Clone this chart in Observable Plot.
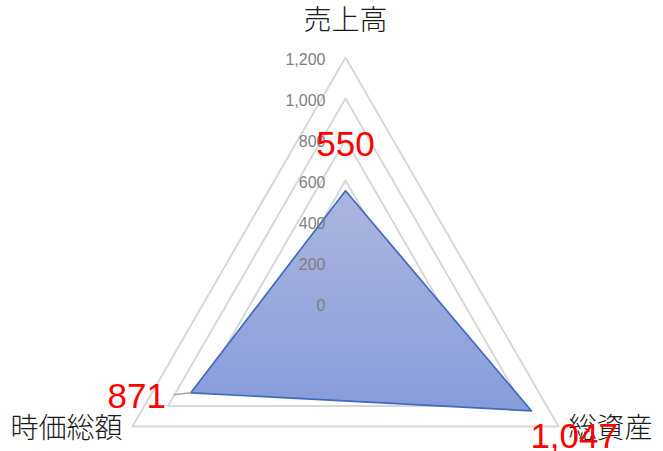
<!DOCTYPE html>
<html>
<head>
<meta charset="utf-8">
<script src="https://cdn.jsdelivr.net/npm/d3@7"></script>
<script src="https://cdn.jsdelivr.net/npm/@observablehq/plot@0.6"></script>
<style>
  html, body { margin: 0; padding: 0; background: #fff; }
  #chart svg { display: block; }
</style>
</head>
<body>
<div id="chart"></div>
<script>
// ---- data ----
const categories = ["売上高", "総資産", "時価総額"];
const values = [550, 1047, 871];
const valueLabels = ["550", "1,047", "871"];
const tickValues = [0, 200, 400, 600, 800, 1000, 1200];
const tickLabels = ["0", "200", "400", "600", "800", "1,000", "1,200"];
const maxValue = 1200;

// ---- geometry helpers (polar -> cartesian in data units) ----
const n = categories.length;
const ang = i => (i * 2 * Math.PI) / n;
const px = (i, v) => v * Math.sin(ang(i));
const py = (i, v) => v * Math.cos(ang(i));

const gridPts = tickValues.flatMap(t =>
  categories.map((c, i) => ({level: t, x: px(i, t), y: py(i, t)}))
);
const seriesPts = categories.map((c, i) => ({cat: c, v: values[i], label: valueLabels[i], x: px(i, values[i]), y: py(i, values[i])}));
const axisLabels = categories.map((c, i) => ({cat: c, i, x: px(i, maxValue), y: py(i, maxValue)}));
const tickPts = tickValues.map((t, k) => ({t, label: tickLabels[k]}));

const W = 663, H = 451;
const cx = 345, cy = 303, k = 246 / maxValue;

const cjk = "'Noto Sans CJK JP', 'Noto Sans', sans-serif";
const num = "'Liberation Sans', Arial, sans-serif";

const p871 = seriesPts[2];

const svg = Plot.plot({
  width: W,
  height: H,
  margin: 0,
  x: {domain: [-cx / k, (W - cx) / k], range: [0, W], axis: null},
  y: {domain: [(cy - H) / k, cy / k], range: [H, 0], axis: null},
  style: {background: "#fff"},
  marks: [
    Plot.line(gridPts, {x: "x", y: "y", z: "level", curve: "linear-closed", stroke: "#d6d6d6", strokeWidth: 1.9}),
    Plot.line(seriesPts, {x: "x", y: "y", curve: "linear-closed", fill: "url(#radarFill)", stroke: "#4169bd", strokeWidth: 1.7}),
    Plot.text(tickPts, {x: 0, y: "t", text: "label", textAnchor: "end", dx: -20, dy: 2, fill: "#808080", fontSize: 16, fontFamily: num}),
    // category labels
    Plot.text(axisLabels.filter(d => d.i === 0), {x: "x", y: "y", text: "cat", dy: -36, fontSize: 28, fontFamily: cjk, fontWeight: 300, fill: "#1a1a1a"}),
    Plot.text(axisLabels.filter(d => d.i === 1), {x: "x", y: "y", text: "cat", textAnchor: "start", dx: 10, dy: 3, fontSize: 28, fontFamily: cjk, fontWeight: 300, fill: "#1a1a1a"}),
    Plot.text(axisLabels.filter(d => d.i === 2), {x: "x", y: "y", text: "cat", textAnchor: "end", dx: -10, dy: 3, fontSize: 28, fontFamily: cjk, fontWeight: 300, fill: "#1a1a1a"}),
    // leader line for 871
    Plot.link([p871], {x1: d => d.x - 17 / k, y1: d => d.y - 2 / k, x2: "x", y2: "y", stroke: "#a6a6a6", strokeWidth: 1.5}),
    // value labels
    Plot.text(seriesPts.filter((d, i) => i === 0), {x: "x", y: "y", text: "label", dy: -46, fontSize: 35, fontFamily: num, fill: "#ff0000"}),
    Plot.text(seriesPts.filter((d, i) => i === 1), {x: "x", y: "y", text: "label", textAnchor: "start", dx: -1, dy: 26, fontSize: 35, fontFamily: num, fill: "#ff0000"}),
    Plot.text(seriesPts.filter((d, i) => i === 2), {x: "x", y: "y", text: "label", textAnchor: "end", dx: -25, dy: 4, fontSize: 35, fontFamily: num, fill: "#ff0000"})
  ]
});

const defs = d3.select(svg).insert("defs", ":first-child");
const grad = defs.append("linearGradient").attr("id", "radarFill")
  .attr("x1", 0).attr("y1", 0).attr("x2", 0).attr("y2", 1);
grad.append("stop").attr("offset", "0%").attr("stop-color", "#aab6de");
grad.append("stop").attr("offset", "100%").attr("stop-color", "#869cdb");

document.getElementById("chart").appendChild(svg);
</script>
</body>
</html>
